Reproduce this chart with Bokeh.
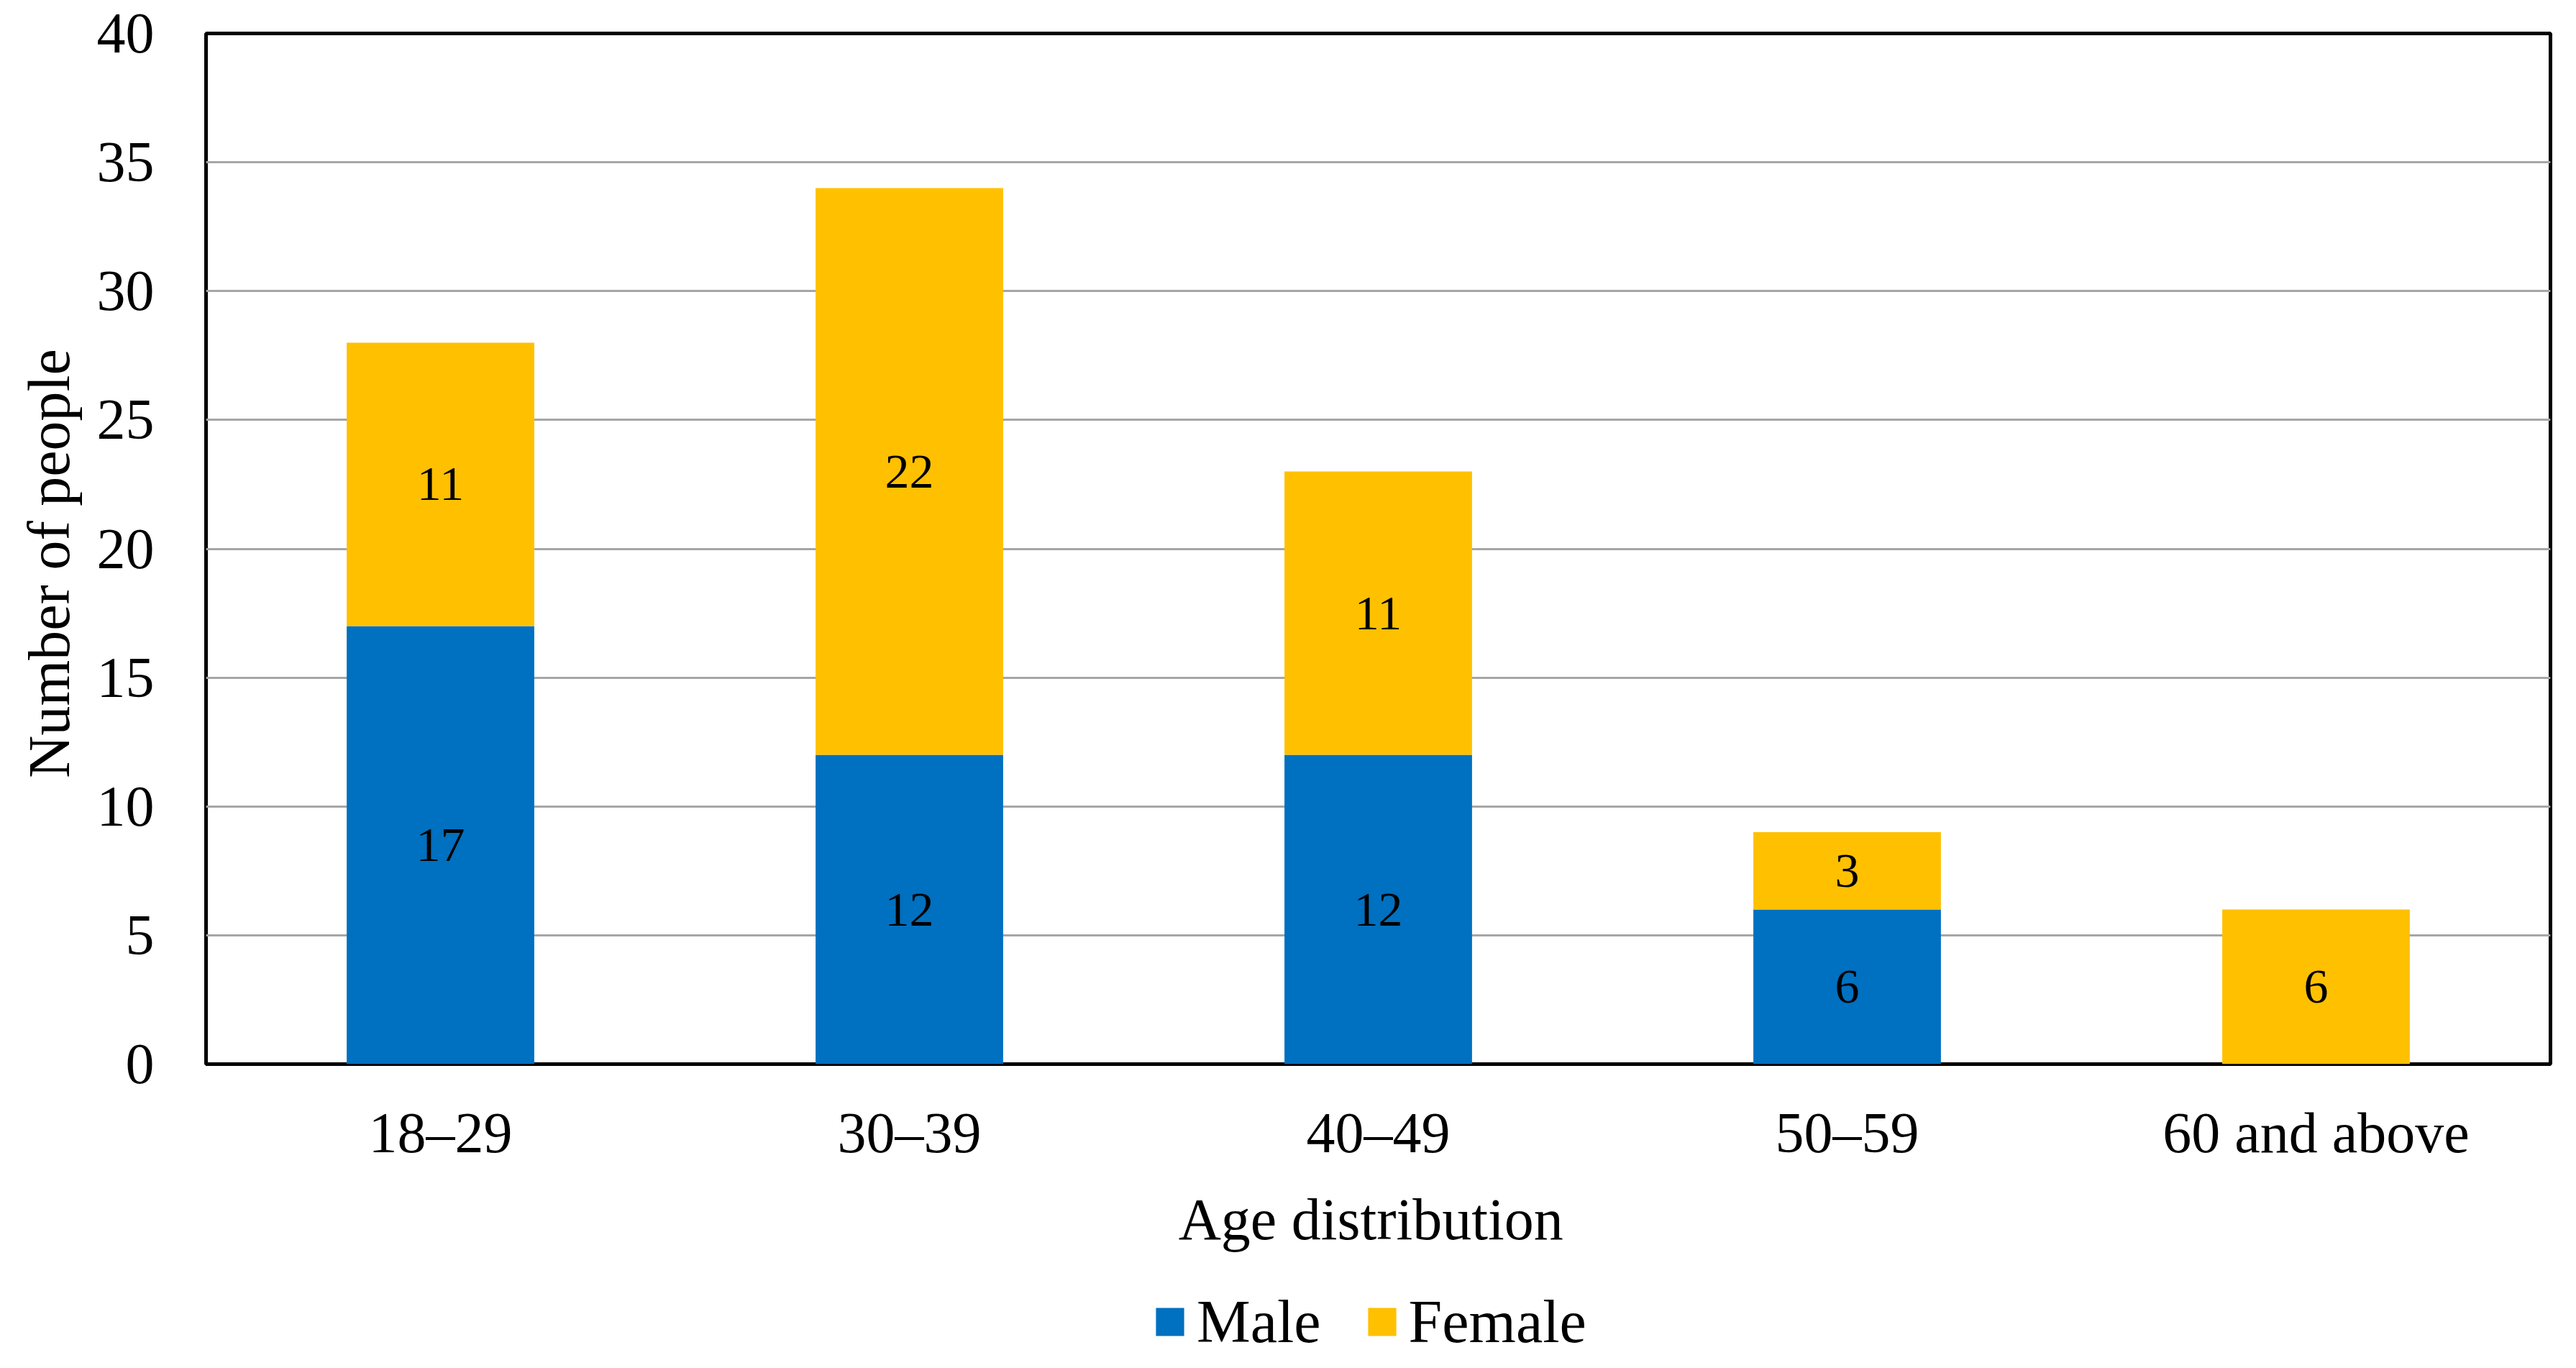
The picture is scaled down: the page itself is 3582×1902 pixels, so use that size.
from bokeh.plotting import figure
from bokeh.layouts import column
from bokeh.models import ColumnDataSource, Legend, LegendItem, FactorRange, Range1d
from bokeh.embed import file_html
from bokeh.resources import INLINE
from bokeh.core.properties import value

categories = ["18–29", "30–39", "40–49", "50–59", "60 and above"]
male = [17, 12, 12, 6, 0]
female = [11, 22, 11, 3, 6]
y_ticks = [0, 5, 10, 15, 20, 25, 30, 35, 40]
series = ["Male", "Female"]

BLUE = "#0070C0"
YELLOW = "#FFC000"
COLORS = [BLUE, YELLOW]
FONT = "Liberation Serif"

W = 3566
H_LEG = 130
H_MAIN = 1886 - H_LEG

src = ColumnDataSource(dict(cat=categories, Male=male, Female=female))

p = figure(x_range=FactorRange(*categories, range_padding=0), y_range=(0, 40),
           width=W, height=H_MAIN, output_backend="svg", toolbar_location=None,
           min_border_left=286, min_border_top=46, min_border_right=20,
           min_border_bottom=H_MAIN - 1479)

rs = p.vbar_stack(series, x="cat", width=0.4, color=COLORS, line_color=None, source=src)

# data labels
lab_x, lab_y, lab_t = [], [], []
for c, m, f in zip(categories, male, female):
    if m > 0:
        lab_x.append(c); lab_y.append(m / 2); lab_t.append(str(m))
    if f > 0:
        lab_x.append(c); lab_y.append(m + f / 2); lab_t.append(str(f))
lsrc = ColumnDataSource(dict(x=lab_x, y=lab_y, t=lab_t))
p.text(x="x", y="y", text="t", source=lsrc, text_align="center", text_baseline="middle",
       text_font=value(FONT), text_font_size="68px", text_color="black")

p.yaxis.ticker = y_ticks
p.xgrid.grid_line_color = None
p.ygrid.grid_line_color = "#A6A6A6"
p.ygrid.grid_line_width = 3
p.outline_line_color = "black"
p.outline_line_width = 5
p.outline_line_alpha = 1

for ax in (p.xaxis[0], p.yaxis[0]):
    ax.axis_line_color = None
    ax.major_tick_line_color = None
    ax.minor_tick_line_color = None
    ax.major_label_text_font = FONT
    ax.major_label_text_font_size = "80px"
    ax.major_label_text_color = "black"
    ax.axis_label_text_font = FONT
    ax.axis_label_text_font_size = "82px"
    ax.axis_label_text_font_style = "normal"
    ax.axis_label_text_color = "black"

p.xaxis.axis_label = "Age  distribution"
p.yaxis.axis_label = "Number  of  people"
p.xaxis.major_label_standoff = 45
p.xaxis.axis_label_standoff = 28
p.yaxis.major_label_standoff = 66
p.yaxis.axis_label_standoff = 18
p.background_fill_color = "white"
p.border_fill_color = "white"

# legend strip below the chart (swatch renderers sit outside the visible range)
q = figure(width=W, height=H_LEG, output_backend="svg", toolbar_location=None,
           x_range=Range1d(0, 1), y_range=Range1d(0, 1),
           min_border_left=0, min_border_right=0, min_border_top=0, min_border_bottom=0)
q.axis.visible = False
q.grid.grid_line_color = None
q.outline_line_color = None
q.background_fill_color = "white"
q.border_fill_color = "white"
swatches = [q.vbar(x=[5], top=[6], bottom=[5], width=0.4, color=c, line_color=None)
            for c in COLORS]

legend = Legend(items=[LegendItem(label=s, renderers=[r]) for s, r in zip(series, swatches)],
                orientation="horizontal", location=(1316, 0),
                label_text_font=FONT, label_text_font_size="84px", label_text_color="black",
                glyph_width=49, glyph_height=49, label_standoff=13, spacing=60,
                border_line_color=None, background_fill_alpha=0, padding=0, margin=0)
q.add_layout(legend, "center")

layout = column(p, q, spacing=0)
open("out.html", "w").write(file_html(layout, INLINE))
